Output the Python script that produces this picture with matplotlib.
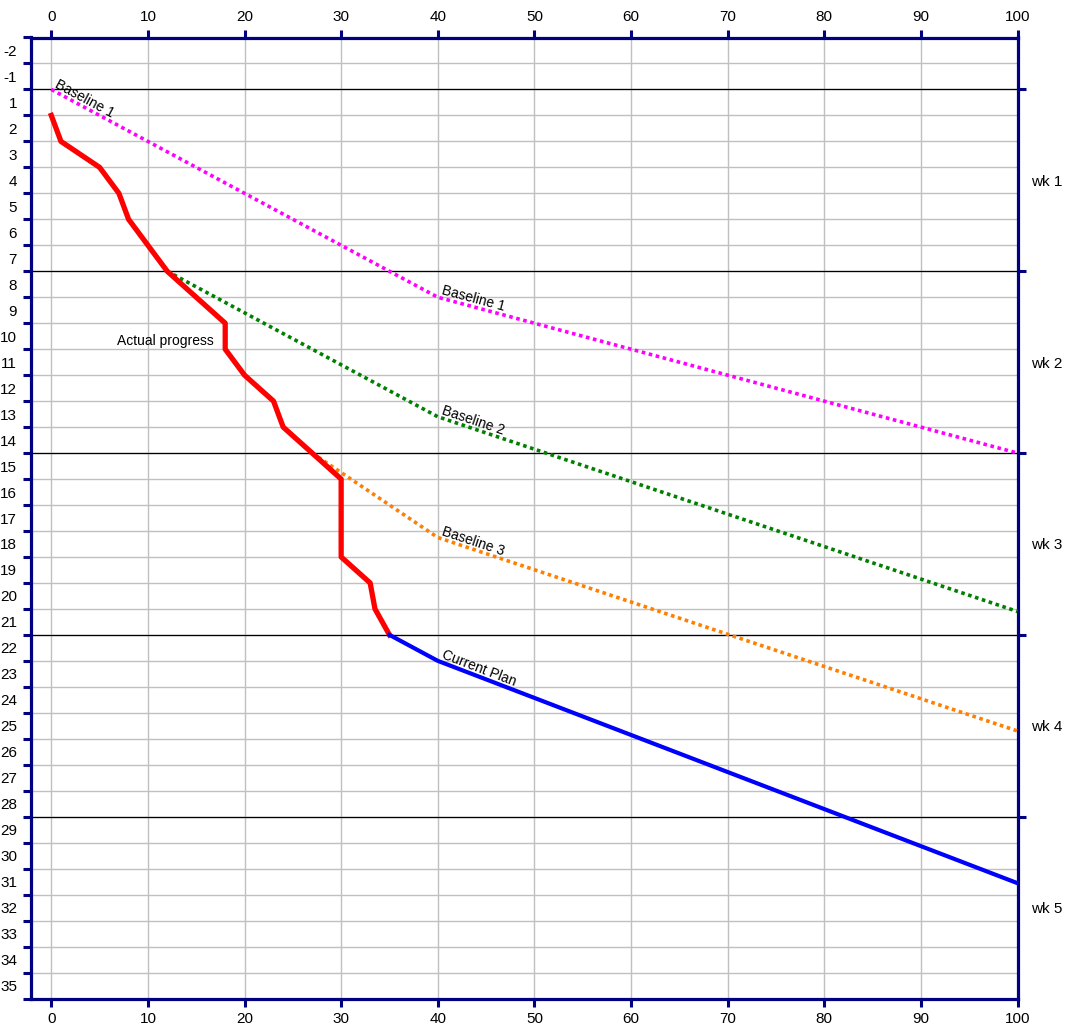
import numpy as np
import matplotlib
matplotlib.use('Agg')
import matplotlib.pyplot as plt

plt.rcParams['font.family'] = ['Liberation Sans', 'DejaVu Sans']

# progress (%) on x, day on y (day d starts at y=d)
base1_x = [0, 40, 100]
base1_y = [1, 9, 15]
base2_x = [12, 40, 100]
base2_y = [8, 13.6, 21.1]
base3_x = [27, 40, 100]
base3_y = [15, 18.25, 25.7]
plan_x = [35, 40, 100]
plan_y = [22, 23, 31.56]
actual_x = [0, 1, 5, 7, 8, 12, 18, 18, 20, 23, 24, 30, 30, 33, 33.5, 35]
actual_y = [2, 3, 4, 5, 6, 8, 10, 11, 12, 13, 14, 16, 19, 20, 21, 22]

week_days = [1, 8, 15, 22, 29]
week_labels = ['wk 1', 'wk 2', 'wk 3', 'wk 4', 'wk 5']
day_labels = ['-2', '-1'] + [str(d) for d in range(1, 36)]

navy = '#000080'

fig = plt.figure(figsize=(10.69, 10.33), dpi=100)
ax = fig.add_axes([31 / 1069, 1 - 998.5 / 1033, 986.5 / 1069, 961 / 1033])
ax.set_xlim(-2.1, 100)
ax.set_ylim(36, -1)

# grid
ax.set_xticks(np.arange(0, 101, 10))
ax.set_yticks(np.arange(-1, 37, 1))
ax.set_yticks(np.arange(-0.5, 36, 1), minor=True)
ax.set_yticklabels([])
ax.set_yticklabels(day_labels, minor=True)
ax.grid(True, which='major', color='#c0c0c0', lw=1.0)
ax.set_axisbelow(True)
for d in week_days:
    ax.axhline(d, color='black', lw=0.9, zorder=1.5)

ax.tick_params(axis='x', which='major', top=True, labeltop=True, direction='out',
               length=5.5, width=2.2, color=navy, labelsize=11, pad=4)
ax.tick_params(axis='y', which='major', left=True, direction='out',
               length=5.5, width=2.2, color=navy)
ax.tick_params(axis='y', which='minor', length=0, labelsize=11, pad=10)
for s in ax.spines.values():
    s.set_color(navy)
    s.set_linewidth(2.3)

# right axis with week markers
ax2 = ax.twinx()
ax2.set_ylim(36, -1)
ax2.set_yticks(week_days)
ax2.set_yticklabels([])
ax2.set_yticks([d + 3.5 for d in week_days], minor=True)
ax2.set_yticklabels(week_labels, minor=True)
ax2.tick_params(axis='y', which='minor', length=0, labelsize=11, pad=10)
ax2.tick_params(axis='y', which='major', direction='out', length=6, width=2.2, color=navy)
for s in ax2.spines.values():
    s.set_visible(False)

dots = (0, (1, 1))
ax.plot(base1_x, base1_y, color='#ff00ff', lw=2.6, ls=dots, zorder=3)
ax.plot(base2_x, base2_y, color='#008000', lw=2.6, ls=dots, zorder=3)
ax.plot(base3_x, base3_y, color='#ff8000', lw=2.6, ls=dots, zorder=3)
ax.plot(actual_x, actual_y, color='#ff0000', lw=3.8, zorder=4)
ax.plot(plan_x, plan_y, color='#0000ff', lw=3.0, zorder=5)


def screen_angle(x0, y0, x1, y1):
    p0 = ax.transData.transform((x0, y0))
    p1 = ax.transData.transform((x1, y1))
    return np.degrees(np.arctan2(p1[1] - p0[1], p1[0] - p0[0]))


def label(text, xs, ys, i):
    ang = screen_angle(xs[i], ys[i], xs[i + 1], ys[i + 1])
    ax.annotate(text, (xs[i], ys[i]), xytext=(2, 2), textcoords='offset points',
                rotation=ang, rotation_mode='anchor', ha='left', va='baseline',
                fontsize=10, zorder=6)


label('Baseline 1', base1_x, base1_y, 0)
label('Baseline 1', base1_x, base1_y, 1)
label('Baseline 2', base2_x, base2_y, 1)
label('Baseline 3', base3_x, base3_y, 1)
label('Current Plan', plan_x, plan_y, 1)
ax.text(6.8, 10.7, 'Actual progress', fontsize=10, ha='left', va='center', zorder=6)

fig.savefig('out.png', dpi=100)
